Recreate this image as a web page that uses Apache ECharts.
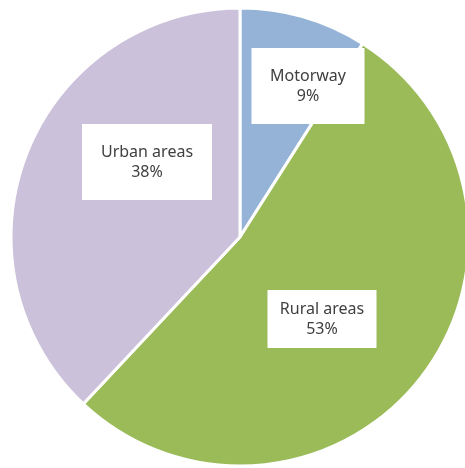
<!DOCTYPE html>
<html>
<head>
<meta charset="utf-8">
<script src="https://cdn.jsdelivr.net/npm/echarts@6/dist/echarts.min.js"></script>
<style>
  html, body { margin: 0; padding: 0; background: #fff; }
  #main { width: 465px; height: 468px; }
</style>
</head>
<body>
<div id="main"></div>
<script>
// data
const categories = ['Motorway', 'Rural areas', 'Urban areas'];
const shares = [9, 53, 38];
const colors = ['#95B3D7', '#9BBB59', '#CCC1DA'];

// label boxes (centre x, centre y, box width, box height)
const labelBoxes = [
  [308, 86, 113, 76],
  [322, 319, 109, 58],
  [147, 162, 130, 76]
];

const lineH = 20;

let chart = echarts.init(document.getElementById('main'));

let option = {
  animation: false,
  series: [
    {
      type: 'pie',
      center: [240, 237],
      radius: 229,
      startAngle: 90,
      clockwise: true,
      avoidLabelOverlap: false,
      itemStyle: {
        borderColor: '#fff',
        borderWidth: 3
      },
      labelLine: { show: false },
      label: {
        show: true,
        position: 'inside',
        color: '#404040',
        fontFamily: 'Noto Sans',
        fontSize: 16,
        lineHeight: lineH,
        align: 'center',
        backgroundColor: '#fff',
        formatter: p => p.name + '\n' + Math.round(p.percent) + '%'
      },
      labelLayout: p => {
        const b = labelBoxes[p.dataIndex];
        return { x: b[0], y: b[1], align: 'center', verticalAlign: 'middle' };
      },
      data: categories.map((name, i) => ({
        name: name,
        value: shares[i],
        itemStyle: { color: colors[i] },
        label: {
          width: labelBoxes[i][2],
          padding: [(labelBoxes[i][3] - 2 * lineH) / 2, 0]
        }
      }))
    }
  ]
};

option && chart.setOption(option);
</script>
</body>
</html>
